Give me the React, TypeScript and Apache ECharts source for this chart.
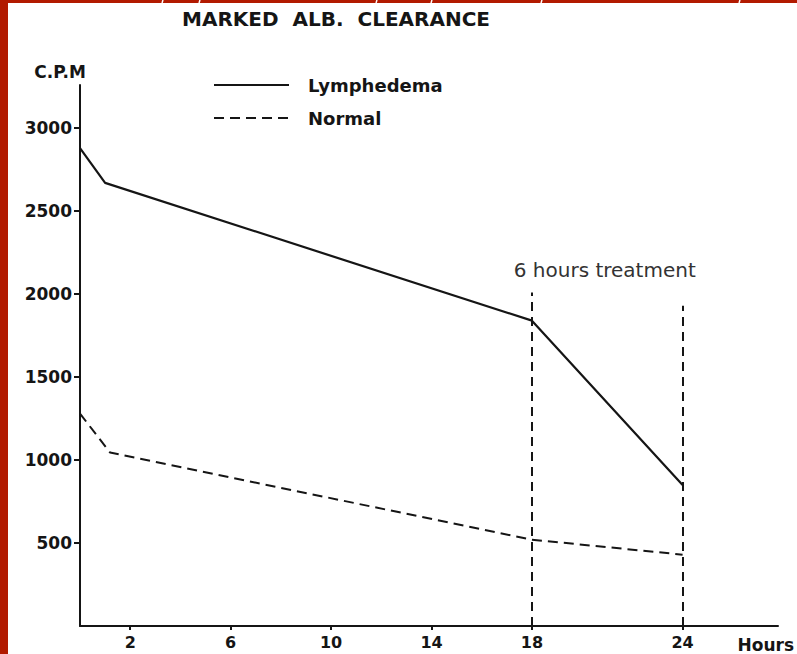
import React, { useEffect, useRef } from "react";
import * as echarts from "echarts";

const title = "MARKED  ALB.  CLEARANCE";
const xTicks = [2, 6, 10, 14, 18, 24];
const yTicks = [500, 1000, 1500, 2000, 2500, 3000];
const lymphedema: [number, number][] = [[0, 2880], [1, 2670], [18, 1840], [24, 850]];
const normal: [number, number][] = [[0, 1280], [1.2, 1045], [18, 520], [24, 430]];
const treatmentLines = [
  { hour: 18, top: 2010 },
  { hour: 24, top: 1930 },
];
const annotation = { text: "6 hours treatment", hour: 20.9, value: 2145 };

const RED = "#b21a00";
const INK = "#151515";

export default function App() {
  const ref = useRef<HTMLDivElement>(null);
  useEffect(() => {
    const chart = echarts.init(ref.current!, null, { renderer: "svg" });
    const bold = { fontFamily: "DejaVu Sans", fontWeight: "bold" as const, color: INK };
    chart.setOption({
      animation: false,
      backgroundColor: "#fff",
      title: {
        text: title,
        left: 182,
        top: 9,
        padding: 0,
        textStyle: { ...bold, fontSize: 20 },
      },
      legend: {
        orient: "vertical",
        left: 213,
        top: 76,
        padding: 0,
        itemWidth: 75,
        itemHeight: 14,
        itemGap: 15,
        itemStyle: { color: "transparent", borderWidth: 0 },
        textStyle: { ...bold, fontSize: 18, padding: [0, 0, 0, 14] },
        data: ["Lymphedema", "Normal"],
      },
      grid: { left: 80, top: 85, width: 701, height: 541 },
      xAxis: {
        type: "value",
        min: 0,
        max: 27.8,
        name: "Hours",
        nameLocation: "end",
        nameGap: 16,
        nameTextStyle: { ...bold, fontSize: 17, align: "right", verticalAlign: "top", padding: [10, 0, 0, 0] },
        axisLine: { lineStyle: { color: INK, width: 2 } },
        axisTick: { show: true, length: 4, customValues: xTicks, lineStyle: { color: INK, width: 2 } },
        axisLabel: { ...bold, fontSize: 16, margin: 8, customValues: xTicks },
        splitLine: { show: false },
      },
      yAxis: {
        type: "value",
        min: 0,
        max: 3260,
        name: "C.P.M",
        nameLocation: "end",
        nameGap: 5,
        nameTextStyle: { ...bold, fontSize: 17, align: "right", padding: [0, -6, 0, 0] },
        axisLine: { show: true, lineStyle: { color: INK, width: 2 } },
        axisTick: { show: true, length: 6, customValues: yTicks, lineStyle: { color: INK, width: 2 } },
        axisLabel: { ...bold, fontSize: 17, margin: 8, customValues: yTicks, formatter: (v: number) => String(v) },
        splitLine: { show: false },
      },
      series: [
        {
          name: "Lymphedema",
          type: "line",
          data: lymphedema,
          symbol: "none",
          lineStyle: { color: INK, width: 2.2 },
          itemStyle: { color: INK },
          markLine: {
            silent: true,
            symbol: "none",
            label: { show: false },
            lineStyle: { color: INK, width: 2, type: [9, 6] },
            data: treatmentLines.map((t) => [
              { coord: [t.hour, 0] },
              { coord: [t.hour, t.top] },
            ]),
          },
          markPoint: {
            silent: true,
            symbolSize: 0,
            label: {
              show: true,
              formatter: annotation.text,
              fontFamily: "DejaVu Sans",
              fontSize: 20,
              color: "#333",
            },
            data: [{ coord: [annotation.hour, annotation.value] }],
          },
        },
        {
          name: "Normal",
          type: "line",
          data: normal,
          symbol: "none",
          lineStyle: { color: INK, width: 2, type: [10, 6] },
          itemStyle: { color: INK },
        },
      ],
      graphic: [
        { type: "rect", left: 0, top: 0, shape: { width: 8, height: 654 }, style: { fill: RED } },
        { type: "rect", left: 0, top: 0, shape: { width: 797, height: 3 }, style: { fill: RED } },
        ...[163, 200, 377, 432, 542, 740].map((x) => ({
          type: "line",
          shape: { x1: x, y1: 0, x2: x - 1, y2: 3 },
          style: { stroke: "#fff", lineWidth: 1.5 },
        })),
      ],
    });
    return () => chart.dispose();
  }, []);
  return (
    <div
      ref={ref}
      style={{ position: "fixed", left: 0, top: 0, width: 797, height: 654, background: "#fff" }}
    />
  );
}
